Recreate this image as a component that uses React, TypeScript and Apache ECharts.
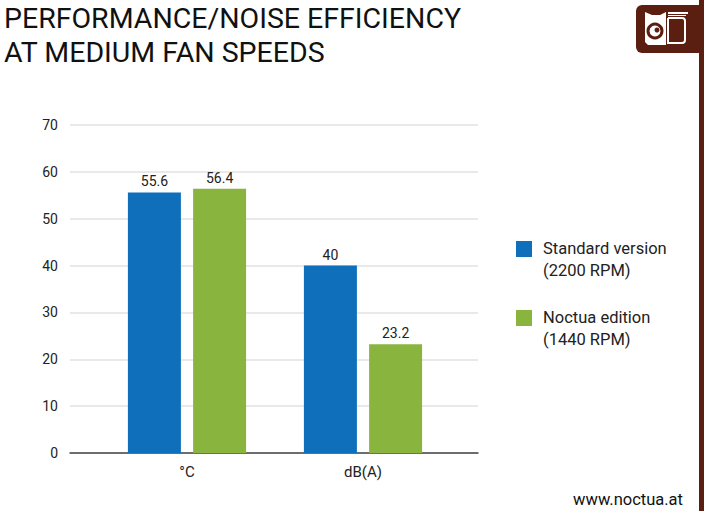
import React, { useEffect, useRef } from "react";
import * as echarts from "echarts";

const titleLines = ["PERFORMANCE/NOISE EFFICIENCY", "AT MEDIUM FAN SPEEDS"];
const categories = ["°C", "dB(A)"];
const seriesNames = ["Standard version\n(2200 RPM)", "Noctua edition\n(1440 RPM)"];
const standardValues = [55.6, 40];
const noctuaValues = [56.4, 23.2];
const seriesColors = ["#0f6fba", "#89b53f"];
const yMin = 0;
const yMax = 70;
const yInterval = 10;
const footer = "www.noctua.at";

const FONT = "Roboto, 'DejaVu Sans', sans-serif";
const BROWN = "#5a1f10";

export default function App() {
  const ref = useRef<HTMLDivElement>(null);
  useEffect(() => {
    if (!ref.current) return;
    const chart = echarts.init(ref.current, null, { renderer: "svg" });
    const seriesValues = [standardValues, noctuaValues];

    const legendGraphics: any[] = [];
    seriesNames.forEach((name, i) => {
      legendGraphics.push({
        type: "rect",
        shape: { x: 516, y: 241 + i * 69, width: 16, height: 16 },
        style: { fill: seriesColors[i] },
      });
      legendGraphics.push({
        type: "text",
        x: 543,
        y: 237 + i * 69,
        style: {
          text: name,
          fill: "#222",
          font: `16.5px ${FONT}`,
          lineHeight: 22,
          textVerticalAlign: "top",
        },
      });
    });

    chart.setOption({
      animation: false,
      backgroundColor: "#ffffff",
      grid: [
        { left: 70, right: 230, top: 125, bottom: 58 },
        { left: 99, right: 257, top: 125, bottom: 58 },
      ],
      xAxis: [
        {
          type: "category",
          gridIndex: 0,
          data: categories,
          axisLine: { show: true, lineStyle: { color: "#444", width: 1.5 } },
          axisTick: { show: false },
          axisLabel: { show: false },
        },
        {
          type: "category",
          gridIndex: 1,
          data: categories,
          axisLine: { show: false },
          axisTick: { show: false },
          axisLabel: { margin: 11, fontSize: 15, color: "#222", fontFamily: FONT },
        },
      ],
      yAxis: [
        {
          type: "value",
          gridIndex: 0,
          min: yMin,
          max: yMax,
          interval: yInterval,
          axisLine: { show: false },
          axisTick: { show: false },
          axisLabel: { margin: 12, fontSize: 14, color: "#222", fontFamily: FONT },
          splitLine: { lineStyle: { color: "#e2e2e2", width: 1.5 } },
        },
        {
          type: "value",
          gridIndex: 1,
          min: yMin,
          max: yMax,
          interval: yInterval,
          show: false,
          splitLine: { show: false },
        },
      ],
      series: seriesNames.map((name, i) => ({
        type: "bar",
        name,
        xAxisIndex: 1,
        yAxisIndex: 1,
        data: seriesValues[i],
        barWidth: 53,
        barGap: "23%",
        itemStyle: { color: seriesColors[i] },
        label: {
          show: true,
          position: "top",
          distance: 4,
          fontSize: 14,
          color: "#222",
          fontFamily: FONT,
        },
        z: 3,
      })),
      graphic: [
        ...titleLines.map((t, i) => ({
          type: "text",
          x: 4,
          y: 4 + i * 34,
          style: { text: t, fill: "#111", font: `28.5px ${FONT}`, textVerticalAlign: "top" },
        })),
        ...legendGraphics,
        {
          type: "text",
          x: 683,
          y: 499,
          style: {
            text: footer,
            fill: "#111",
            font: `16.5px ${FONT}`,
            textAlign: "right",
            textVerticalAlign: "middle",
          },
        },
        {
          type: "rect",
          shape: { x: 699, y: 0, width: 5, height: 511 },
          style: { fill: BROWN },
        },
        {
          type: "rect",
          shape: { x: 636, y: 5, width: 66, height: 48, r: [6, 0, 0, 6] },
          style: { fill: BROWN },
        },
        {
          type: "polygon",
          shape: { points: [[645, 12], [652, 15], [660, 15], [666, 12], [666, 45], [648, 45], [645, 42]] },
          style: { fill: "#ffffff" },
        },
        {
          type: "circle",
          shape: { cx: 655, cy: 31, r: 7 },
          style: { fill: "none", stroke: BROWN, lineWidth: 3 },
        },
        {
          type: "circle",
          shape: { cx: 657, cy: 30, r: 2.5 },
          style: { fill: BROWN },
        },
        {
          type: "rect",
          shape: { x: 668, y: 18, width: 17, height: 25, r: [0, 3, 3, 0] },
          style: { fill: "none", stroke: "#ffffff", lineWidth: 2 },
        },
        {
          type: "line",
          shape: { x1: 668, y1: 13, x2: 688, y2: 13 },
          style: { stroke: "#ffffff", lineWidth: 2 },
        },
        {
          type: "line",
          shape: { x1: 668, y1: 15.5, x2: 686, y2: 15.5 },
          style: { stroke: "#ffffff", lineWidth: 1 },
        },
      ],
    });
    return () => chart.dispose();
  }, []);
  return (
    <div
      ref={ref}
      style={{ position: "absolute", left: 0, top: 0, width: 708, height: 511 }}
    />
  );
}
